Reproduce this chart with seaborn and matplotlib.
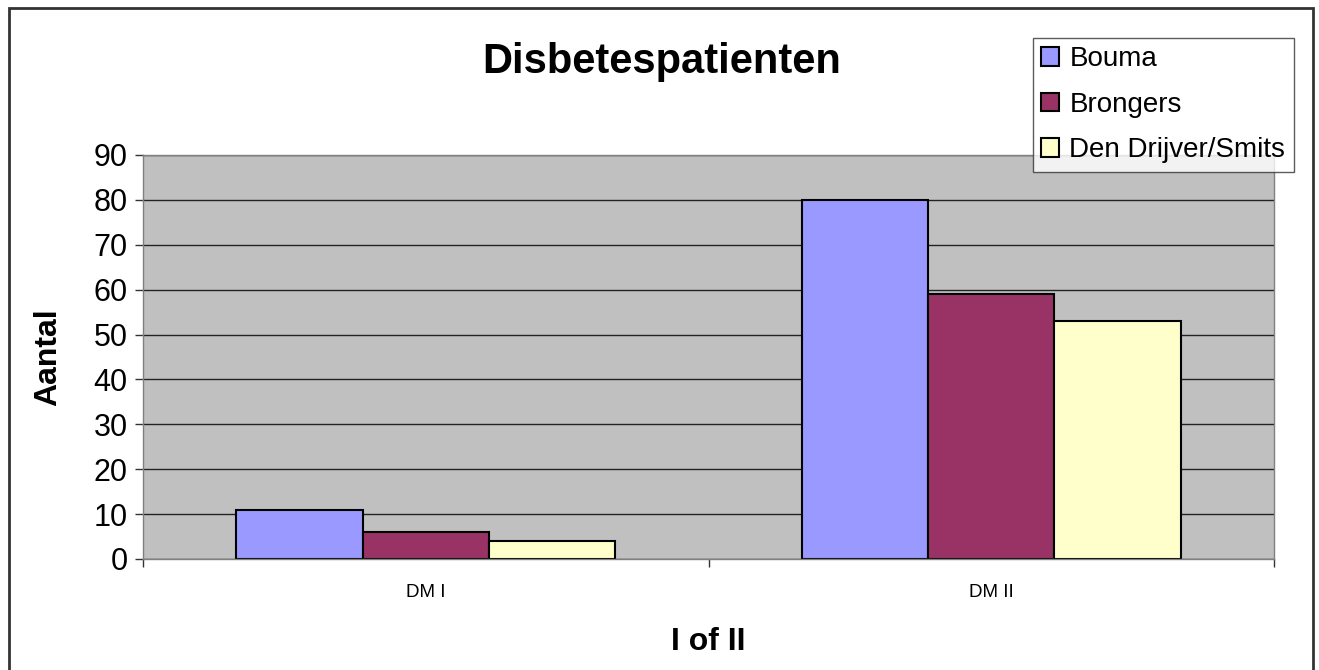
import pandas as pd
import seaborn as sns
import matplotlib.pyplot as plt
from matplotlib.patches import Rectangle

categories = ['DM I', 'DM II']
series = ['Bouma', 'Brongers', 'Den Drijver/Smits']
bouma = [11, 80]
brongers = [6, 59]
drijver = [4, 53]
colors = ['#9999FF', '#993366', '#FFFFCC']

df = pd.DataFrame({
    'cat': categories * 3,
    'naam': [s for s in series for _ in categories],
    'aantal': bouma + brongers + drijver,
})

sns.set_style('white')
plt.rcParams['font.family'] = ['Liberation Sans', 'DejaVu Sans']
plt.rcParams['text.color'] = 'black'
plt.rcParams['axes.labelcolor'] = 'black'
plt.rcParams['xtick.color'] = 'black'
plt.rcParams['ytick.color'] = 'black'

fig = plt.figure(figsize=(13.19, 6.70), dpi=100)
W, H = 1319, 670
ax = fig.add_axes([143 / W, 1 - 559 / H, (1274 - 143) / W, (559 - 155) / H])
ax.set_facecolor('#C0C0C0')

sns.barplot(data=df, x='cat', y='aantal', hue='naam', palette=colors,
            width=0.67, edgecolor='black', linewidth=1.5, saturation=1,
            ax=ax, legend=True)

ax.set_xlim(-0.5, 1.5)
ax.set_ylim(0, 90)
ax.set_yticks(range(0, 91, 10))
ax.yaxis.grid(True, color='#222222', linewidth=1)
ax.set_axisbelow(True)
for s in ax.spines.values():
    s.set_color('#808080')
    s.set_linewidth(1)
ax.tick_params(axis='y', labelsize=22, length=6, width=1, color='#333333', pad=5, left=True)
ax.set_xticks([0, 1])
ax.set_xticklabels(categories)
ax.set_xticks([-0.5, 0.5, 1.5], minor=True)
ax.tick_params(axis='x', which='major', length=0, labelsize=13.5, pad=18)
ax.tick_params(axis='x', which='minor', length=6, width=1, color='#333333', bottom=True)
ax.set_xlabel('I of II', fontsize=23, fontweight='bold', labelpad=19)
ax.set_ylabel('Aantal', fontsize=23, fontweight='bold', labelpad=22)

fig.text(662 / W, 1 - 62 / H, 'Disbetespatienten', ha='center', va='center',
         fontsize=30, fontweight='bold')

ax.get_legend().remove()
handles, labels = ax.get_legend_handles_labels()
leg = fig.legend(handles, labels, loc='upper left',
                 bbox_to_anchor=(1033 / W, 1 - 38 / H), fontsize=20,
                 frameon=True, fancybox=False, edgecolor='#333333',
                 handlelength=0.65, handleheight=0.65, handletextpad=0.36,
                 labelspacing=0.7, borderpad=0.3, borderaxespad=0)
leg.get_frame().set_linewidth(1)

fig.patches.append(Rectangle((9 / W, -0.01), (1313 - 9) / W, 1 - 8 / H + 0.01,
                             transform=fig.transFigure, fill=False,
                             edgecolor='#333333', linewidth=2))

fig.savefig('out.png', dpi=100)
